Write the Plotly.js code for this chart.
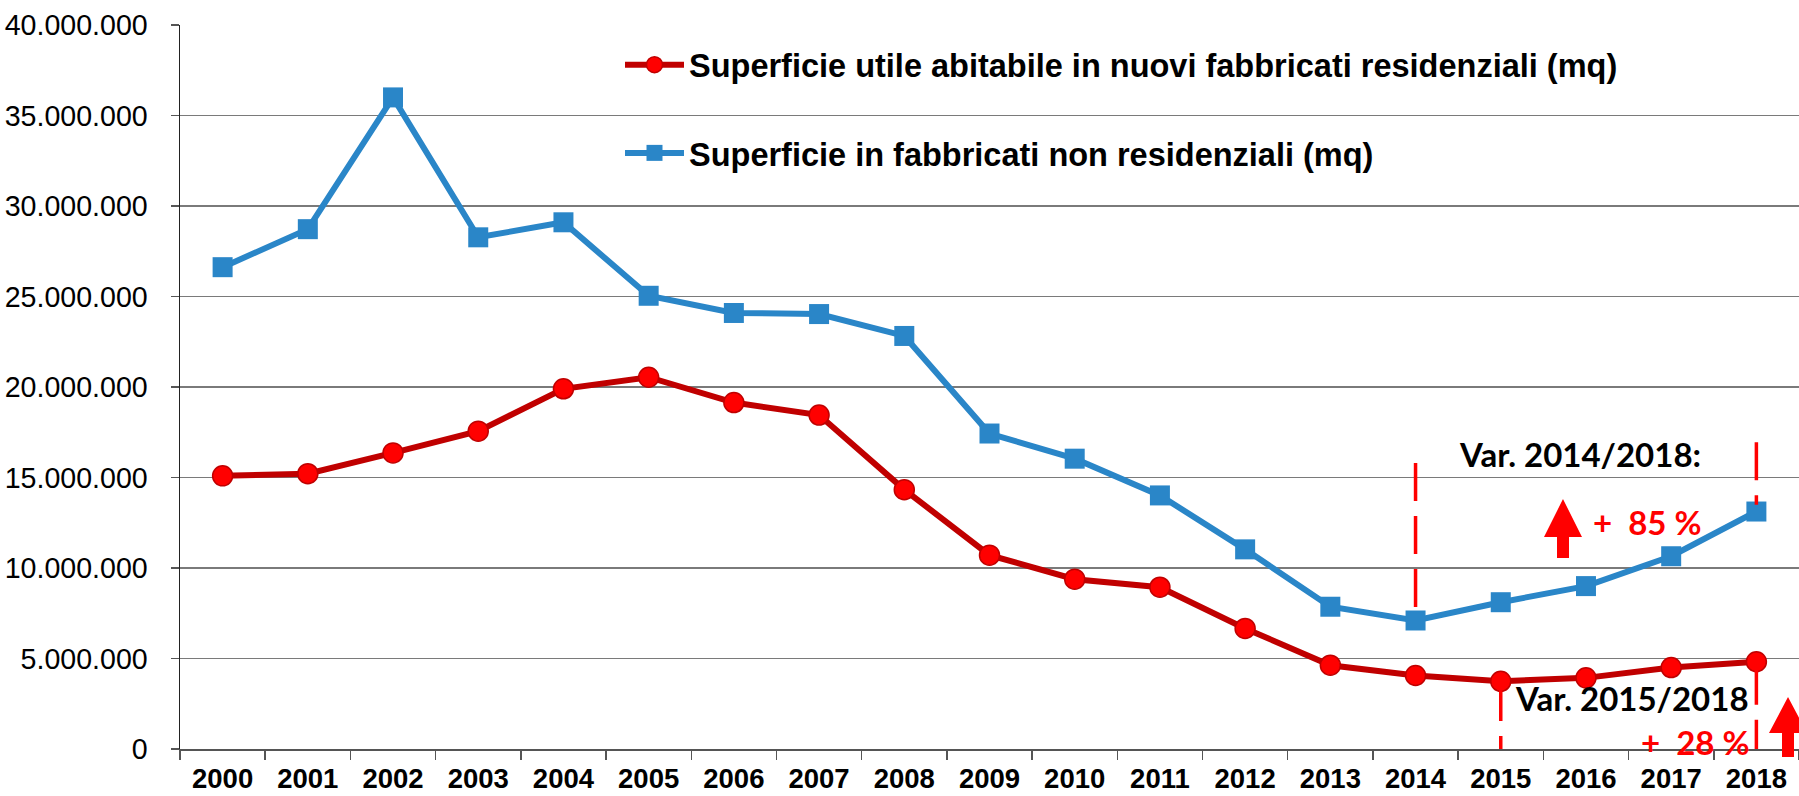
<!DOCTYPE html>
<html>
<head>
<meta charset="utf-8">
<script src="https://cdn.plot.ly/plotly-3.0.1.min.js"></script>
<style>html,body{margin:0;padding:0;background:#fff;}#chart{width:1799px;height:796px;}</style>
</head>
<body>
<div id="chart"></div>
<script>
const years = ["2000","2001","2002","2003","2004","2005","2006","2007","2008","2009","2010","2011","2012","2013","2014","2015","2016","2017","2018"];
const residenziali = [15090000,15210000,16360000,17560000,19900000,20540000,19140000,18450000,14330000,10710000,9380000,8940000,6660000,4630000,4060000,3740000,3930000,4500000,4820000];
const nonResidenziali = [26620000,28720000,36000000,28270000,29100000,25040000,24090000,24030000,22820000,17430000,16040000,14010000,11030000,7860000,7100000,8110000,9000000,10650000,13120000];
const seriesNames = ["Superficie utile abitabile in nuovi fabbricati residenziali (mq)", "Superficie in fabbricati non residenziali (mq)"];
const yTicks = [0,5000000,10000000,15000000,20000000,25000000,30000000,35000000,40000000];

const W = 1799, H = 796, ML = 180, MR = 0, MT = 25, MB = 47;
const PW = W - ML - MR, PH = H - MT - MB;
const px = x => (x - ML) / PW;
const py = y => (H - MB - y) / PH;
function path(pts){ return 'M' + pts.map(p => px(p[0]).toFixed(5) + ',' + py(p[1]).toFixed(5)).join(' L') + ' Z'; }

const traces = [
  {x: years, y: residenziali, name: seriesNames[0], type: 'scatter', mode: 'lines+markers', legendgroup: 'a',
   line: {color: '#C00000', width: 6}, marker: {symbol: 'circle', size: 20, color: '#FF0000', line: {color: '#C00000', width: 1.5}}},
  {x: years, y: nonResidenziali, name: seriesNames[1], type: 'scatter', mode: 'lines+markers', legendgroup: 'b',
   line: {color: '#2A86C8', width: 6}, marker: {symbol: 'square', size: 20, color: '#2A86C8'}}
];

const red = '#FF0000';
const dashed = (year, y0, y1) => {
  const i = years.indexOf(year);
  return {type: 'line', xref: 'x', yref: 'y', x0: i, x1: i, y0: y0, y1: y1,
    line: {color: red, width: 3.5, dash: '38px,15px'}};
};

const shapes = [
  dashed('2014', 15800000, 7750000),
  dashed('2018', 16950000, 13500000),
  dashed('2015', 3650000, 0),
  dashed('2018', 4550000, 0),
  {type: 'path', xref: 'paper', yref: 'paper', fillcolor: red, line: {width: 0},
   path: path([[1563,499],[1582,537],[1569,537],[1569,558],[1557,558],[1557,537],[1544,537]])},
  {type: 'path', xref: 'paper', yref: 'paper', fillcolor: red, line: {width: 0},
   path: path([[1788,697],[1807,733],[1794,733],[1794,757],[1782,757],[1782,733],[1769,733]])}
];

const annFont = {family: 'Lato, Open Sans, sans-serif', size: 33, color: '#000', weight: 'bold'};
const annRed = Object.assign({}, annFont, {color: red});
const annotations = [
  {xref: 'paper', yref: 'paper', x: px(1703), y: py(454), xanchor: 'right', yanchor: 'middle', showarrow: false, text: '<b>Var. 2014/2018:</b>', font: annFont},
  {xref: 'paper', yref: 'paper', x: px(1704), y: py(522), xanchor: 'right', yanchor: 'middle', showarrow: false, text: '<b>+\u00a0\u00a085 %</b>', font: annRed},
  {xref: 'paper', yref: 'paper', x: px(1751), y: py(698), xanchor: 'right', yanchor: 'middle', showarrow: false, text: '<b>Var. 2015/2018</b>', font: annFont},
  {xref: 'paper', yref: 'paper', x: px(1752), y: py(742), xanchor: 'right', yanchor: 'middle', showarrow: false, text: '<b>+\u00a0\u00a028 %</b>', font: annRed}
];

const layout = {
  width: W, height: H,
  margin: {l: ML, r: MR, t: MT, b: MB, pad: 0},
  paper_bgcolor: '#fff', plot_bgcolor: '#fff',
  separators: ',.',
  font: {family: 'Arial, Liberation Sans, sans-serif', color: '#000'},
  showlegend: true,
  legend: {x: px(620), y: py(37), xanchor: 'left', yanchor: 'top', traceorder: 'grouped', tracegroupgap: 43,
    itemwidth: 59, bgcolor: 'rgba(0,0,0,0)',
    font: {family: 'Arial, Liberation Sans, sans-serif', size: 32.5, color: '#000', weight: 'bold'}},
  xaxis: {type: 'category', categoryorder: 'array', categoryarray: years, range: [-0.5, 18.5],
    tickson: 'boundaries', ticks: 'outside', ticklen: 9, tickwidth: 1.5, tickcolor: '#555',
    ticklabelstandoff: 4,
    showline: true, linecolor: '#555', linewidth: 2, showgrid: false, zeroline: false,
    tickfont: {family: 'Arial, Liberation Sans, sans-serif', size: 27.5, color: '#000', weight: 'bold'}, fixedrange: true},
  yaxis: {range: [0, 40000000], tickvals: yTicks, tickformat: ',d', ticks: 'outside', ticklen: 8, tickwidth: 1.5, tickcolor: '#555',
    ticklabelstandoff: 17,
    showline: true, linecolor: '#222', linewidth: 1.5, showgrid: true, gridcolor: '#7a7a7a', gridwidth: 1.3, zeroline: false,
    tickfont: {family: 'Arial, Liberation Sans, sans-serif', size: 28.6, color: '#000'}, fixedrange: true},
  shapes: shapes,
  annotations: annotations
};

Plotly.newPlot('chart', traces, layout, {displayModeBar: false, staticPlot: true});
</script>
</body>
</html>
